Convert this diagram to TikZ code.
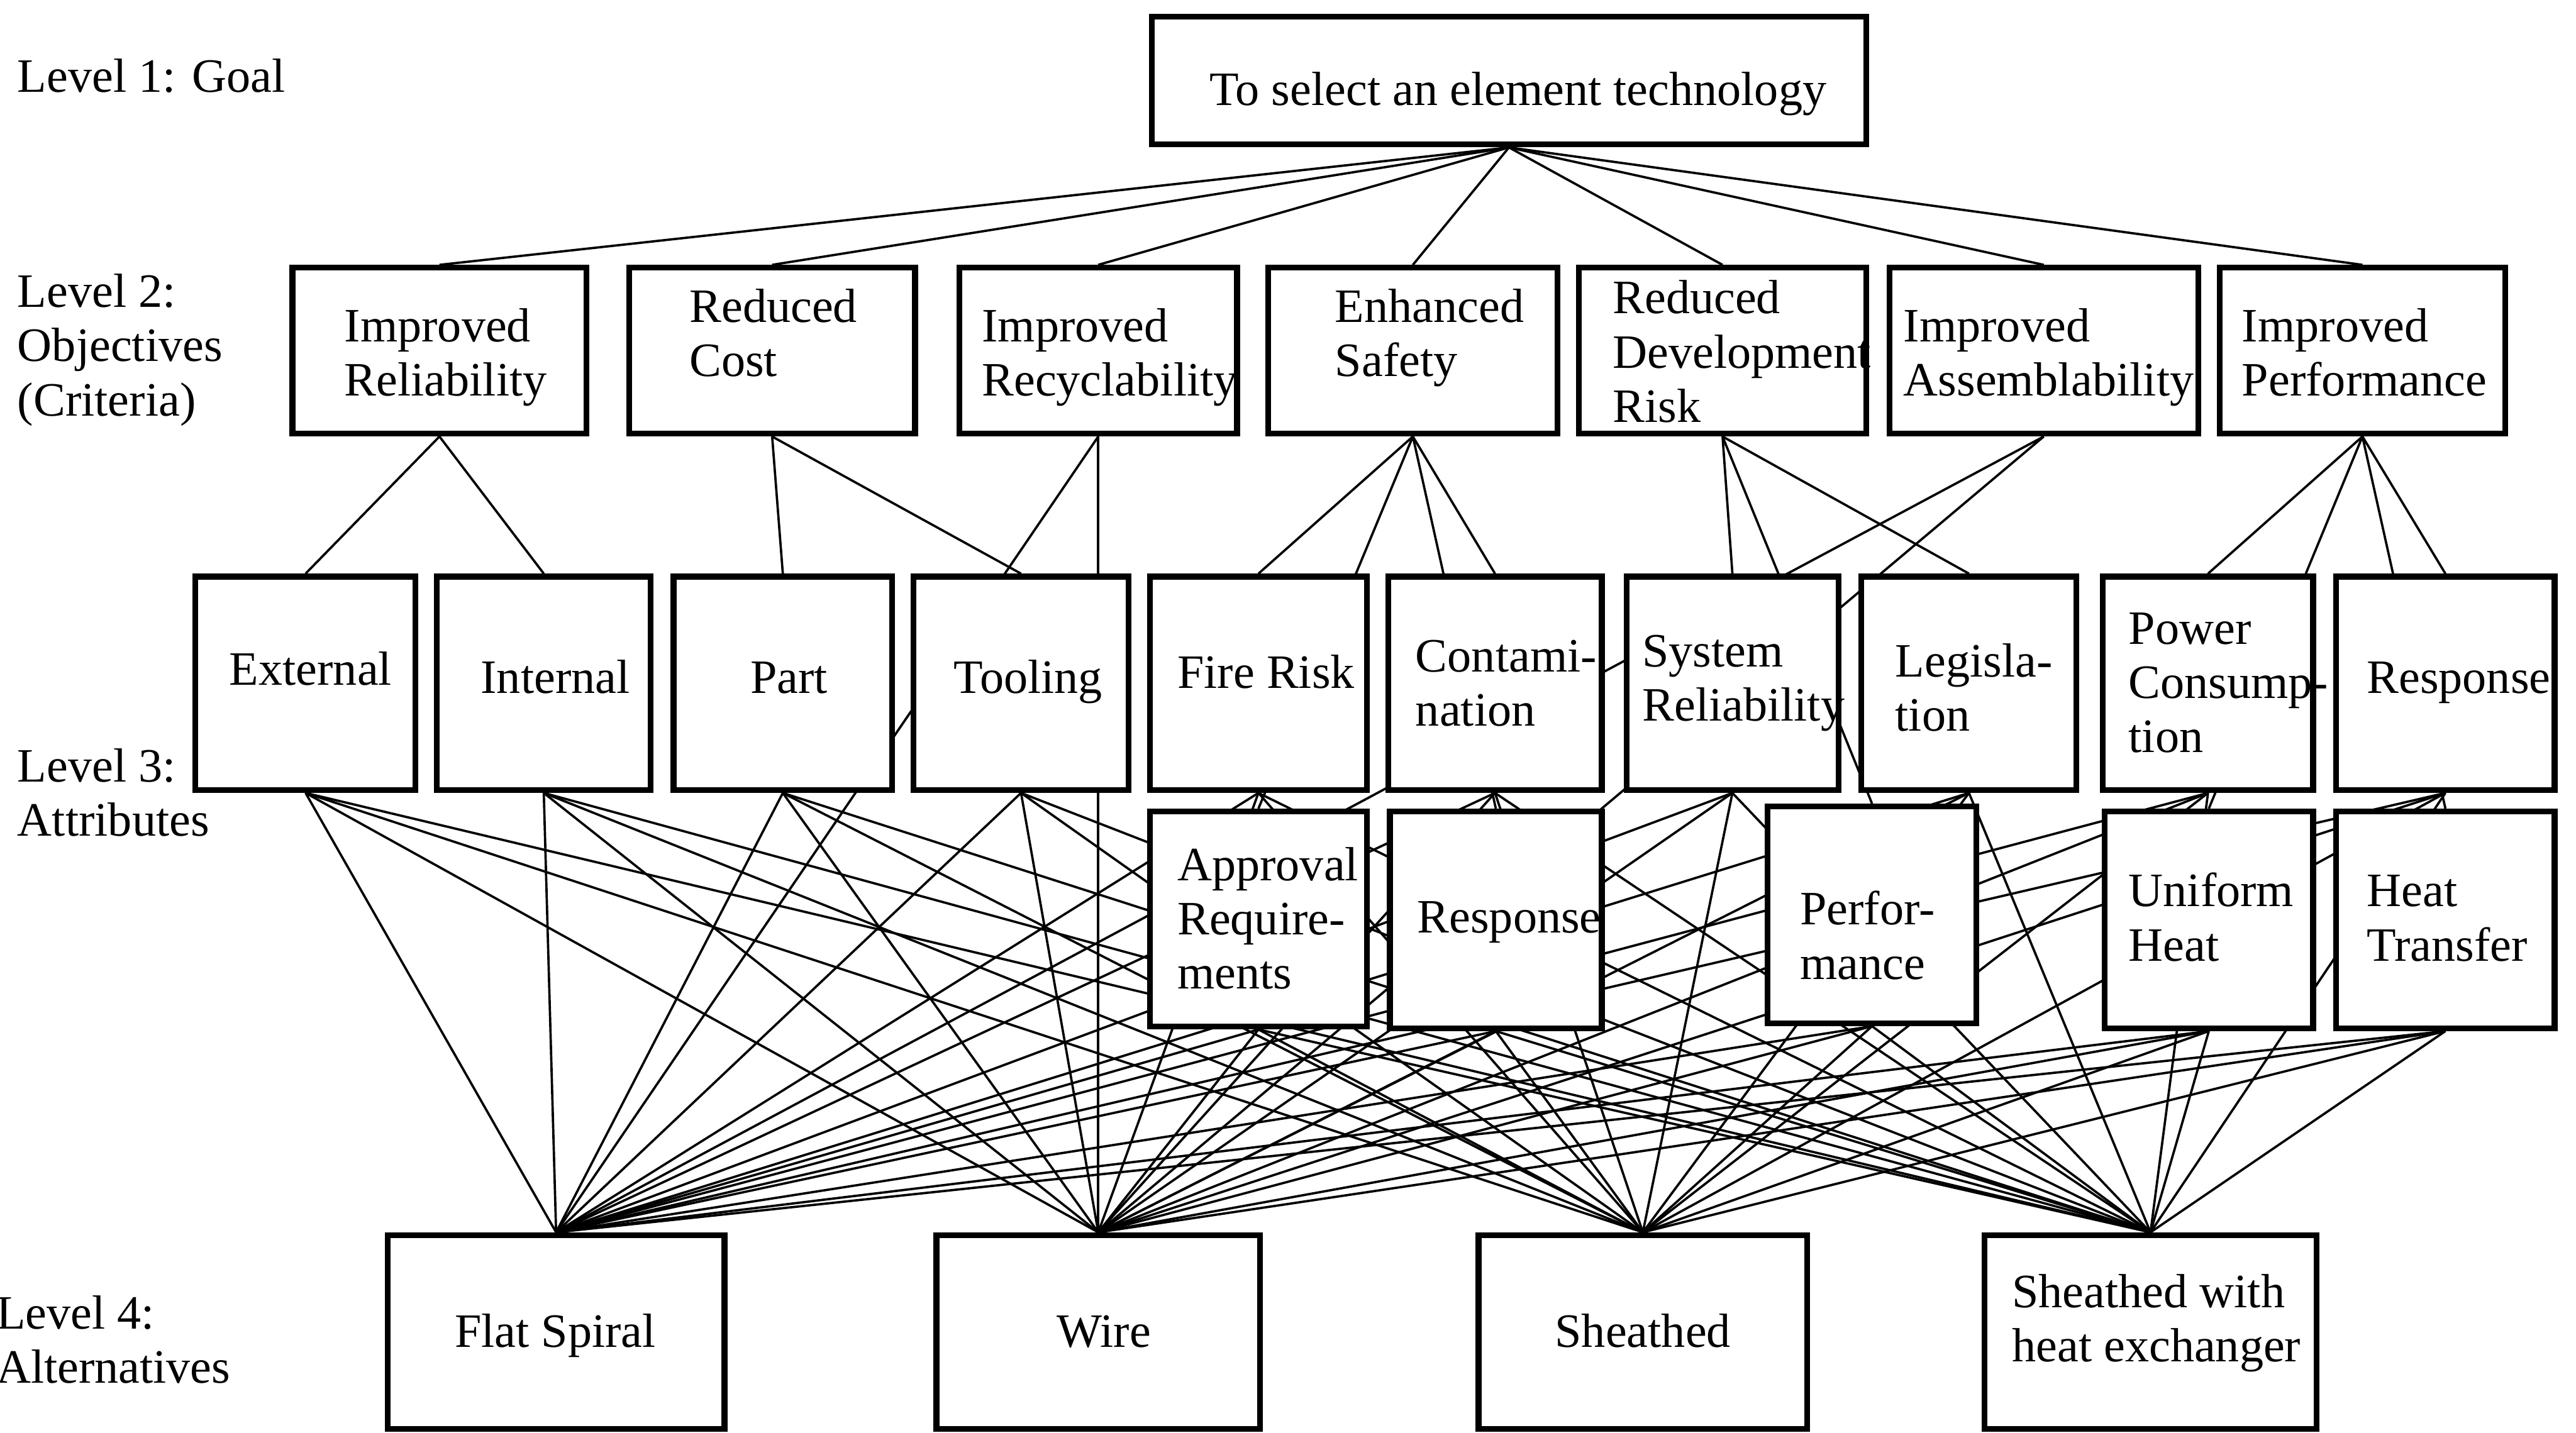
\documentclass[tikz,border=0pt]{standalone}
\usepackage{fontspec}
\setmainfont{Liberation Serif}
\usetikzlibrary{fit,backgrounds}
% left-aligned stack of lines whose reference point is the first baseline
\newcommand\ls[1]{\vtop{\halign{##\hfil\cr#1\crcr}}}
\begin{document}
\begin{tikzpicture}[x=0.1mm,y=-0.1mm,
  box/.style={draw, line width=1pt, fill=white, inner sep=0pt},
  txt/.style={inner sep=0pt, font=\fontsize{8.3pt}{9.4pt}\selectfont},
  lt/.style={txt, anchor=base west},
  ct/.style={txt, anchor=base},
  link/.style={line width=0.72pt, line join=round, line cap=round}]

\useasboundingbox (0,0) rectangle (1568,872.3);

% ---------- level captions ----------
\node[lt] (lvl1) at (10,56)  {Level 1: Goal};
\node[lt] (lvl2) at (10,187) {\ls{Level 2:\cr Objectives\cr (Criteria)}};
\node[lt] (lvl3) at (10,476) {\ls{Level 3:\cr Attributes}};
\node[lt] (lvl4) at (-3,809) {\ls{Level 4:\cr Alternatives}};

% ---------- level 1: goal ----------
\node[box, fit={(701,10) (1136,88)}] (goal) {};
\node[ct] (goal-t) at (924,64) {To select an element technology};

% ---------- level 2: objectives ----------
\node[box, fit={(178,163) (357,264)}]   (rel) {};
\node[box, fit={(383,163) (557,264)}]   (cost) {};
\node[box, fit={(584,163) (753,264)}]   (recyc) {};
\node[box, fit={(772,163) (948,264)}]   (safety) {};
\node[box, fit={(961,163) (1136,264)}]  (devrisk) {};
\node[box, fit={(1150,163) (1338,264)}] (assem) {};
\node[box, fit={(1351,163) (1525,264)}] (perfobj) {};

\node[lt] (rel-t)     at (209,208)  {\ls{Improved\cr Reliability}};
\node[lt] (cost-t)    at (419,196)  {\ls{Reduced\cr Cost}};
\node[lt] (recyc-t)   at (597,208)  {\ls{Improved\cr Recyclability}};
\node[lt] (safety-t)  at (812,196)  {\ls{Enhanced\cr Safety}};
\node[lt] (devrisk-t) at (981,191)  {\ls{Reduced\cr Development\cr Risk}};
\node[lt] (assem-t)   at (1158,208) {\ls{Improved\cr Assemblability}};
\node[lt] (perfobj-t) at (1364,208) {\ls{Improved\cr Performance}};

% ---------- level 3: attributes, upper row ----------
\node[box, fit={(119,351) (253,481)}]   (ext) {};
\node[box, fit={(266,351) (396,481)}]   (int) {};
\node[box, fit={(410,351) (543,481)}]   (part) {};
\node[box, fit={(556,351) (687,481)}]   (tool) {};
\node[box, fit={(700,351) (832,481)}]   (fire) {};
\node[box, fit={(845,351) (975,481)}]   (cont) {};
\node[box, fit={(990,351) (1119,481)}]  (sysrel) {};
\node[box, fit={(1133,351) (1264,481)}] (legis) {};
\node[box, fit={(1280,351) (1408,481)}] (power) {};
\node[box, fit={(1422,351) (1555,481)}] (respA) {};

% ---------- level 3: attributes, lower row ----------
\node[box, fit={(700,494) (832,625)}]   (appr) {};
\node[box, fit={(846,494) (975,626)}]   (respB) {};
\node[box, fit={(1076,491) (1203,623)}] (perf) {};
\node[box, fit={(1281,494) (1408,626)}] (uheat) {};
\node[box, fit={(1422,494) (1555,626)}] (htrans) {};

% ---------- level 4: alternatives ----------
\node[box, fit={(236,752) (441,870)}]   (flat) {};
\node[box, fit={(570,752) (767,870)}]   (wire) {};
\node[box, fit={(900,752) (1100,870)}]  (sheath) {};
\node[box, fit={(1208,752) (1410,870)}] (shex) {};

% ---------- connectors (behind the boxes) ----------
\begin{scope}[on background layer, link]
  \foreach \o in {rel,cost,recyc,safety,devrisk,assem,perfobj}
    \draw (goal.south) -- (\o.north);
  \draw (rel.south) -- (ext.north);
  \draw (rel.south) -- (int.north);
  \draw (cost.south) -- (part.north);
  \draw (cost.south) -- (tool.north);
  \draw (recyc.south) -- (flat.north);
  \draw (recyc.south) -- (wire.north);
  \draw (safety.south) -- (fire.north);
  \draw (safety.south) -- (appr.north);
  \draw (safety.south) -- (respB.north);
  \draw (safety.south) -- (cont.north);
  \draw (devrisk.south) -- (sysrel.north);
  \draw (devrisk.south) -- (perf.north);
  \draw (devrisk.south) -- (legis.north);
  \draw (assem.south) -- (flat.north);
  \draw (assem.south) -- (wire.north);
  \draw (perfobj.south) -- (power.north);
  \draw (perfobj.south) -- (uheat.north);
  \draw (perfobj.south) -- (htrans.north);
  \draw (perfobj.south) -- (respA.north);
  \foreach \a in {ext,int,part,tool,fire,cont,sysrel,legis,power,respA,appr,respB,perf,uheat,htrans}
    \foreach \b in {flat,wire,sheath,shex}
      \draw (\a.south) -- (\b.north);
\end{scope}

% ---------- texts of the attributes ----------
\node[lt] (ext-t)    at (139,417)  {External};
\node[lt] (int-t)    at (292,422)  {Internal};
\node[lt] (part-t)   at (456,422)  {Part};
\node[lt] (tool-t)   at (580,422)  {Tooling};
\node[lt] (fire-t)   at (716,419)  {Fire Risk};
\node[lt] (cont-t)   at (861,409)  {\ls{Contami-\cr nation}};
\node[lt] (sysrel-t) at (999,406)  {\ls{System\cr Reliability}};
\node[lt] (legis-t)  at (1153,412) {\ls{Legisla-\cr tion}};
\node[lt] (power-t)  at (1295,392) {\ls{Power\cr Consump-\cr tion}};
\node[lt] (respA-t)  at (1440,422) {Response};
\node[lt] (appr-t)   at (716,536)  {\ls{Approval\cr Require-\cr ments}};
\node[lt] (respB-t)  at (862,568)  {Response};
\node[lt] (perf-t)   at (1095,563) {\ls{Perfor-\cr mance}};
\node[lt] (uheat-t)  at (1295,552) {\ls{Uniform\cr Heat}};
\node[lt] (htrans-t) at (1440,552) {\ls{Heat\cr Transfer}};

% ---------- texts of the alternatives ----------
\node[ct] (flat-t)   at (338,820)  {Flat Spiral};
\node[ct] (wire-t)   at (672,820)  {Wire};
\node[ct] (sheath-t) at (1000,820) {Sheathed};
\node[lt] (shex-t)   at (1224,796) {\ls{Sheathed with\cr heat exchanger}};
\end{tikzpicture}
\end{document}
